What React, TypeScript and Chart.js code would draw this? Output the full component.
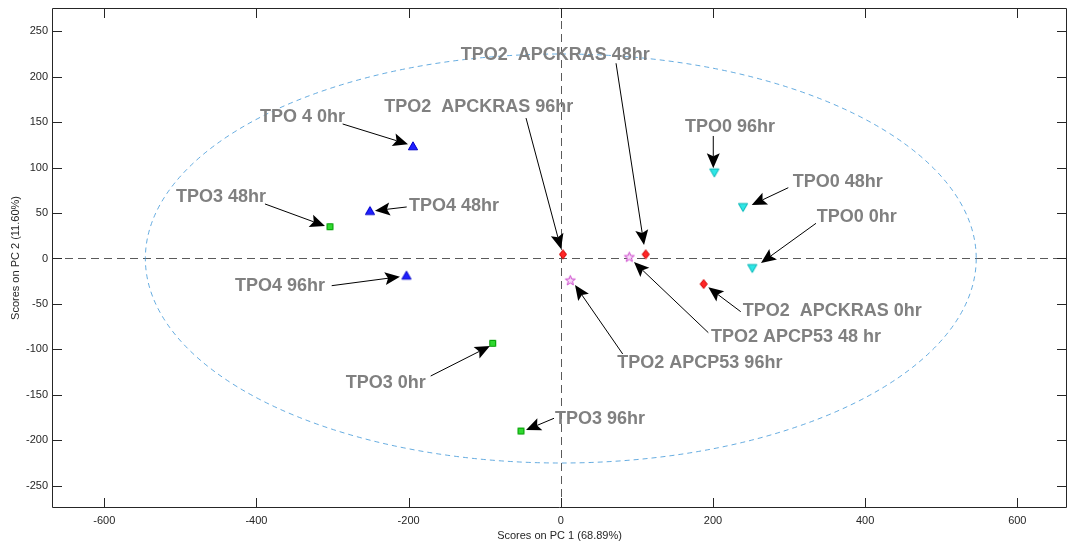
import React, { useEffect, useRef } from "react";
import { Chart, registerables } from "chart.js";

Chart.register(...registerables);

// Axis tick values
const xTickValues = [-600, -400, -200, 0, 200, 400, 600];
const yTickValues = [-250, -200, -150, -100, -50, 0, 50, 100, 150, 200, 250];

// PCA scores per group (PC1, PC2)
const tpo4Samples = ["TPO 4 0hr", "TPO4 48hr", "TPO4 96hr"];
const tpo4PC1 = [-194.3, -250.8, -202.8];
const tpo4PC2 = [123.8, 52.6, -18.5];

const tpo3Samples = ["TPO3 48hr", "TPO3 0hr", "TPO3 96hr"];
const tpo3PC1 = [-303.4, -89.5, -52.3];
const tpo3PC2 = [35.0, -93.3, -189.8];

const apcKrasSamples = ["TPO2  APCKRAS 96hr", "TPO2  APCKRAS 48hr", "TPO2  APCKRAS 0hr"];
const apcKrasPC1 = [2.9, 111.6, 187.8];
const apcKrasPC2 = [4.6, 4.6, -28.1];

const apcP53Samples = ["TPO2 APCP53 48 hr", "TPO2 APCP53 96hr"];
const apcP53PC1 = [90.0, 12.5];
const apcP53PC2 = [1.7, -24.0];

const tpo0Samples = ["TPO0 96hr", "TPO0 48hr", "TPO0 0hr"];
const tpo0PC1 = [201.8, 239.5, 251.7];
const tpo0PC2 = [94.4, 56.3, -10.8];

// Confidence ellipse semi-axes (PC1, PC2)
const ellipseAxes = [546, 225];

// Callout annotations: text anchor (left, middle), arrow tail and arrow tip, in score units
const callouts = [
  { text: "TPO2  APCKRAS 48hr", at: [-131.6, 223.9], tail: [72.6, 214.8], tip: [109.4, 14.9] },
  { text: "TPO2  APCKRAS 96hr", at: [-232.0, 167.0], tail: [-45.7, 154.5], tip: [0.3, 10.5] },
  { text: "TPO 4 0hr", at: [-395.4, 155.7], tail: [-286.7, 148.0], tip: [-200.8, 125.7] },
  { text: "TPO3 48hr", at: [-505.7, 67.7], tail: [-388.8, 60.0], tip: [-309.9, 35.8] },
  { text: "TPO4 48hr", at: [-199.5, 57.8], tail: [-202.5, 56.7], tip: [-244.2, 52.6] },
  { text: "TPO4 96hr", at: [-428.2, -30.3], tail: [-301.1, -29.9], tip: [-211.4, -20.0] },
  { text: "TPO3 0hr", at: [-282.6, -137.0], tail: [-171.0, -129.3], tip: [-93.1, -96.3] },
  { text: "TPO3 96hr", at: [-7.6, -176.9], tail: [-8.9, -175.8], tip: [-45.7, -188.7] },
  { text: "TPO0 96hr", at: [163.2, 145.0], tail: [200.4, 134.8], tip: [200.4, 99.3] },
  { text: "TPO0 48hr", at: [304.8, 84.5], tail: [299.0, 77.9], tip: [250.9, 58.9] },
  { text: "TPO0 0hr", at: [336.3, 45.3], tail: [335.4, 38.7], tip: [263.1, -5.0] },
  { text: "TPO2  APCKRAS 0hr", at: [239.1, -57.4], tail: [236.5, -58.5], tip: [193.9, -31.7] },
  { text: "TPO2 APCP53 48 hr", at: [197.4, -86.0], tail: [193.9, -81.6], tip: [96.2, -3.9] },
  { text: "TPO2 APCP53 96hr", at: [74.3, -115.3], tail: [81.4, -105.1], tip: [18.7, -29.2] },
];

const FONT = '"Liberation Sans", Arial, Helvetica, sans-serif';
const AXIS_COLOR = "#262626";

function pairs(xs: number[], ys: number[]) {
  return xs.map((x, i) => ({ x, y: ys[i] }));
}

function markerCanvas(w: number, h: number, draw: (ctx: CanvasRenderingContext2D) => void) {
  const c = document.createElement("canvas");
  c.width = w;
  c.height = h;
  const ctx = c.getContext("2d")!;
  draw(ctx);
  return c;
}

function polyMarker(w: number, h: number, pts: number[][], fill: string, stroke: string) {
  return markerCanvas(w, h, (ctx) => {
    ctx.beginPath();
    pts.forEach(([x, y], i) => (i ? ctx.lineTo(x, y) : ctx.moveTo(x, y)));
    ctx.closePath();
    ctx.fillStyle = fill;
    ctx.fill();
    ctx.strokeStyle = stroke;
    ctx.lineWidth = 1;
    ctx.stroke();
  });
}

function starPoints(cx: number, cy: number, R: number, r: number) {
  const pts: number[][] = [];
  for (let i = 0; i < 10; i++) {
    const a = -Math.PI / 2 + (i * Math.PI) / 5;
    const rad = i % 2 === 0 ? R : r;
    pts.push([cx + rad * Math.cos(a), cy + rad * Math.sin(a)]);
  }
  return pts;
}

// Keep the plot box fixed: no extra room reserved for overflowing tick labels
function fixScaleBox(s: any, size: { width?: number; height?: number }) {
  if (size.width !== undefined) s.width = size.width;
  if (size.height !== undefined) s.height = size.height;
  s.paddingLeft = 0;
  s.paddingRight = 0;
  s.paddingTop = 0;
  s.paddingBottom = 0;
}

const ellipsePlugin = {
  id: "ellipseAndZeroLines",
  beforeDatasetsDraw(chart: any) {
    const { ctx, chartArea, scales } = chart;
    const xs = scales.x;
    const ys = scales.y;
    ctx.save();
    ctx.beginPath();
    ctx.rect(chartArea.left, chartArea.top, chartArea.right - chartArea.left, chartArea.bottom - chartArea.top);
    ctx.clip();
    // zero reference lines
    ctx.strokeStyle = "#5a5a5a";
    ctx.lineWidth = 1;
    ctx.setLineDash([8, 5]);
    const x0 = Math.round(xs.getPixelForValue(0)) + 0.5;
    const y0 = Math.round(ys.getPixelForValue(0)) + 0.5;
    ctx.beginPath();
    ctx.moveTo(chartArea.left, y0);
    ctx.lineTo(chartArea.right, y0);
    ctx.moveTo(x0, chartArea.top);
    ctx.lineTo(x0, chartArea.bottom);
    ctx.stroke();
    // confidence ellipse
    const cx = xs.getPixelForValue(0);
    const cy = ys.getPixelForValue(0);
    const rx = Math.abs(xs.getPixelForValue(ellipseAxes[0]) - cx);
    const ry = Math.abs(ys.getPixelForValue(ellipseAxes[1]) - cy);
    ctx.strokeStyle = "#3f97d8";
    ctx.lineWidth = 0.8;
    ctx.setLineDash([5, 4]);
    ctx.beginPath();
    ctx.ellipse(cx, cy, rx, ry, 0, 0, Math.PI * 2);
    ctx.stroke();
    ctx.restore();
  },
};

const calloutPlugin = {
  id: "callouts",
  afterDatasetsDraw(chart: any) {
    const { ctx, scales } = chart;
    const xs = scales.x;
    const ys = scales.y;
    ctx.save();
    callouts.forEach((c) => {
      const tx = xs.getPixelForValue(c.tail[0]);
      const ty = ys.getPixelForValue(c.tail[1]);
      const hx = xs.getPixelForValue(c.tip[0]);
      const hy = ys.getPixelForValue(c.tip[1]);
      const dx = hx - tx;
      const dy = hy - ty;
      const len = Math.hypot(dx, dy) || 1;
      const ux = dx / len;
      const uy = dy / len;
      const nx = -uy;
      const ny = ux;
      const L = 15;
      const W = 6.5;
      const bx = hx - ux * L;
      const by = hy - uy * L;
      const kx = hx - ux * L * 0.8;
      const ky = hy - uy * L * 0.8;
      ctx.strokeStyle = "#000";
      ctx.lineWidth = 1;
      ctx.beginPath();
      ctx.moveTo(tx, ty);
      ctx.lineTo(kx, ky);
      ctx.stroke();
      ctx.fillStyle = "#000";
      ctx.beginPath();
      ctx.moveTo(hx, hy);
      ctx.lineTo(bx + nx * W, by + ny * W);
      ctx.lineTo(kx, ky);
      ctx.lineTo(bx - nx * W, by - ny * W);
      ctx.closePath();
      ctx.fill();
    });
    ctx.font = `bold 18px ${FONT}`;
    ctx.fillStyle = "#808080";
    ctx.textAlign = "left";
    ctx.textBaseline = "middle";
    callouts.forEach((c) => {
      ctx.fillText(c.text, xs.getPixelForValue(c.at[0]), ys.getPixelForValue(c.at[1]));
    });
    ctx.restore();
  },
};

const framePlugin = {
  id: "frameTicks",
  afterDraw(chart: any) {
    const { ctx, chartArea, scales } = chart;
    const { left, right, top, bottom } = chartArea;
    const T = 10;
    ctx.save();
    ctx.strokeStyle = AXIS_COLOR;
    ctx.lineWidth = 1;
    ctx.setLineDash([]);
    ctx.beginPath();
    ctx.rect(left + 0.5, top + 0.5, right - left - 1, bottom - top - 1);
    xTickValues.forEach((v) => {
      const px = Math.round(scales.x.getPixelForValue(v)) + 0.5;
      ctx.moveTo(px, bottom);
      ctx.lineTo(px, bottom - T);
      ctx.moveTo(px, top);
      ctx.lineTo(px, top + T);
    });
    yTickValues.forEach((v) => {
      const py = Math.round(scales.y.getPixelForValue(v)) + 0.5;
      ctx.moveTo(left, py);
      ctx.lineTo(left + T, py);
      ctx.moveTo(right, py);
      ctx.lineTo(right - T, py);
    });
    ctx.stroke();
    ctx.restore();
  },
};

export default function App() {
  const canvasRef = useRef<HTMLCanvasElement | null>(null);

  useEffect(() => {
    if (!canvasRef.current) return;

    const triUp = polyMarker(12, 12, [[6, 1.8], [10.6, 9.8], [1.4, 9.8]], "#1f1fff", "#0000c8");
    const triDown = polyMarker(12, 12, [[1.4, 2.2], [10.6, 2.2], [6, 10.2]], "#2ee6e6", "#00b4b4");
    const square = polyMarker(9, 9, [[1.5, 1.5], [7.5, 1.5], [7.5, 7.5], [1.5, 7.5]], "#2fd82f", "#009a00");
    const diamond = polyMarker(10, 12, [[5, 1.5], [8.5, 6], [5, 10.5], [1.5, 6]], "#ff2626", "#d00000");
    const star = polyMarker(13, 13, starPoints(6.5, 6.8, 5.2, 2.2), "#f7dcf7", "#cc44cc");

    const chart = new Chart(canvasRef.current, {
      type: "scatter",
      data: {
        datasets: [
          { label: "TPO4", data: pairs(tpo4PC1, tpo4PC2), pointStyle: triUp as any, pointRadius: 6 },
          { label: "TPO3", data: pairs(tpo3PC1, tpo3PC2), pointStyle: square as any, pointRadius: 5 },
          { label: "TPO2 APCKRAS", data: pairs(apcKrasPC1, apcKrasPC2), pointStyle: diamond as any, pointRadius: 6 },
          { label: "TPO2 APCP53", data: pairs(apcP53PC1, apcP53PC2), pointStyle: star as any, pointRadius: 6 },
          { label: "TPO0", data: pairs(tpo0PC1, tpo0PC2), pointStyle: triDown as any, pointRadius: 6 },
        ],
      },
      options: {
        animation: false,
        responsive: false,
        devicePixelRatio: 1,
        layout: { autoPadding: false, padding: { top: 8, right: 1, left: 0, bottom: 0 } },
        plugins: {
          legend: { display: false },
          tooltip: { enabled: false },
        },
        scales: {
          x: {
            type: "linear",
            position: "bottom",
            min: -668.7,
            max: 665.3,
            grid: { display: false, drawTicks: false },
            border: { display: false },
            afterBuildTicks: (s: any) => {
              s.ticks = xTickValues.map((value) => ({ value }));
            },
            afterFit: (s: any) => fixScaleBox(s, { height: 40 }),
            ticks: {
              color: AXIS_COLOR,
              font: { family: FONT, size: 11 },
              padding: 6,
              maxRotation: 0,
              autoSkip: false,
              callback: (v: any) => String(v),
            },
            title: {
              display: true,
              text: "Scores on PC 1 (68.89%)",
              color: AXIS_COLOR,
              font: { family: FONT, size: 11 },
              padding: { top: 0, bottom: 5 },
            },
          },
          y: {
            type: "linear",
            position: "left",
            min: -274.5,
            max: 275.6,
            grid: { display: false, drawTicks: false },
            border: { display: false },
            afterBuildTicks: (s: any) => {
              s.ticks = yTickValues.map((value) => ({ value }));
            },
            afterFit: (s: any) => fixScaleBox(s, { width: 52 }),
            ticks: {
              color: AXIS_COLOR,
              font: { family: FONT, size: 11 },
              padding: 4,
              autoSkip: false,
              callback: (v: any) => String(v),
            },
            title: {
              display: true,
              text: "Scores on PC 2 (11.60%)",
              color: AXIS_COLOR,
              font: { family: FONT, size: 11 },
              padding: { top: 9, bottom: 0 },
            },
          },
        },
      },
      plugins: [ellipsePlugin, calloutPlugin, framePlugin],
    });

    return () => chart.destroy();
  }, []);

  return (
    <div style={{ position: "absolute", left: 0, top: 0, width: 1068, height: 548, background: "#fff" }}>
      <canvas ref={canvasRef} width={1068} height={548} style={{ display: "block" }} />
    </div>
  );
}
